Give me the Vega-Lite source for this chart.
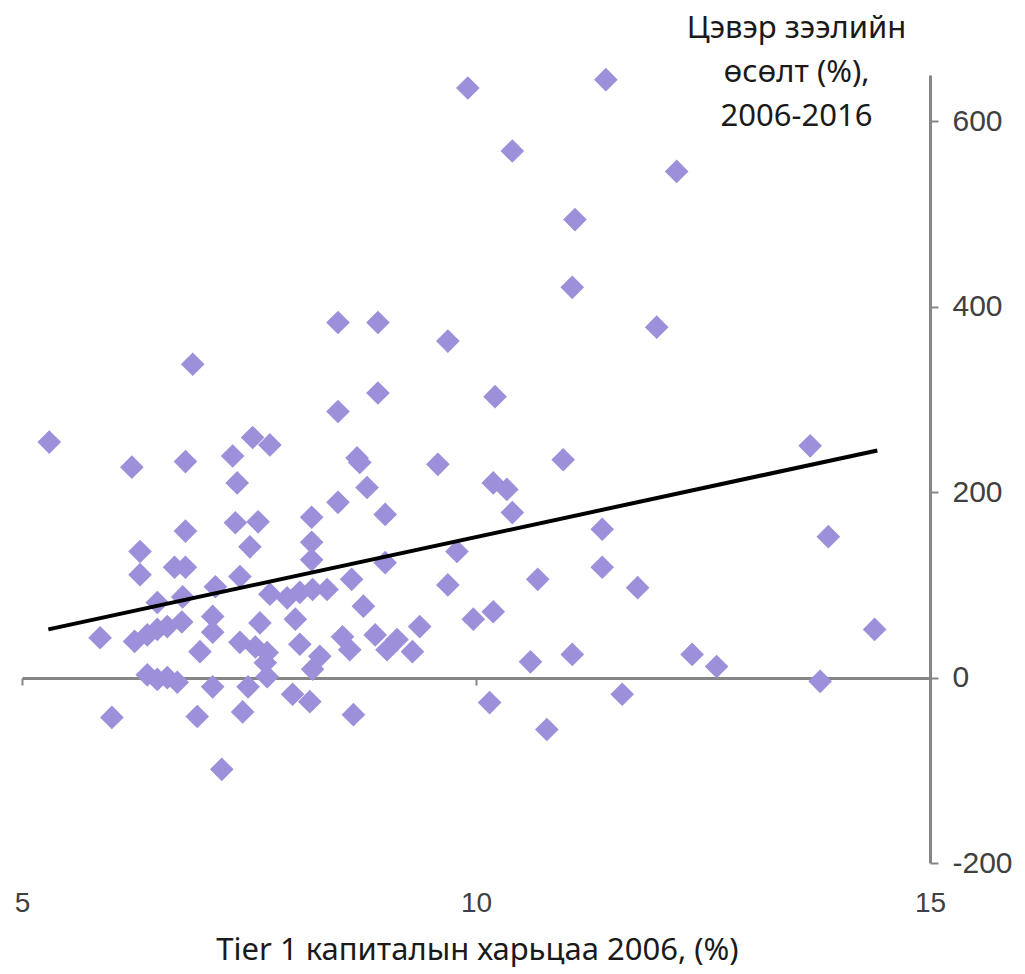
{
  "$schema": "https://vega.github.io/schema/vega-lite/v6.json",
  "autosize": "none",
  "width": 908,
  "height": 788,
  "padding": {"left": 22, "top": 75, "right": 95, "bottom": 111},
  "background": "white",
  "config": {"view": {"stroke": null}},
  "datasets": {
    "pts": [
      {"t1": 5.30, "g": 254}, {"t1": 5.86, "g": 43}, {"t1": 5.99, "g": -43}, {"t1": 6.21, "g": 227},
      {"t1": 6.30, "g": 136}, {"t1": 6.30, "g": 111}, {"t1": 6.24, "g": 39}, {"t1": 6.38, "g": 46},
      {"t1": 6.49, "g": 81}, {"t1": 6.49, "g": 52}, {"t1": 6.60, "g": 55}, {"t1": 6.76, "g": 60},
      {"t1": 6.77, "g": 87}, {"t1": 6.38, "g": 3}, {"t1": 6.49, "g": -2}, {"t1": 6.60, "g": 0},
      {"t1": 6.71, "g": -5}, {"t1": 6.80, "g": 233}, {"t1": 6.80, "g": 158}, {"t1": 6.68, "g": 119},
      {"t1": 6.80, "g": 119}, {"t1": 6.88, "g": 338}, {"t1": 6.93, "g": -42}, {"t1": 6.96, "g": 28},
      {"t1": 7.13, "g": 98}, {"t1": 7.10, "g": 66}, {"t1": 7.10, "g": 49}, {"t1": 7.10, "g": -10},
      {"t1": 7.20, "g": -99}, {"t1": 7.32, "g": 239}, {"t1": 7.37, "g": 210}, {"t1": 7.35, "g": 167},
      {"t1": 7.40, "g": 109}, {"t1": 7.40, "g": 38}, {"t1": 7.43, "g": -37}, {"t1": 7.54, "g": 259},
      {"t1": 7.73, "g": 251}, {"t1": 7.51, "g": 141}, {"t1": 7.60, "g": 168}, {"t1": 7.62, "g": 59},
      {"t1": 7.57, "g": 33}, {"t1": 7.70, "g": 27}, {"t1": 7.68, "g": 16}, {"t1": 7.49, "g": -10},
      {"t1": 7.70, "g": 1}, {"t1": 7.73, "g": 90}, {"t1": 7.92, "g": 86}, {"t1": 8.06, "g": 92},
      {"t1": 8.20, "g": 95}, {"t1": 8.36, "g": 95}, {"t1": 8.01, "g": 63}, {"t1": 8.06, "g": 36},
      {"t1": 7.98, "g": -18}, {"t1": 8.17, "g": -26}, {"t1": 8.19, "g": 173}, {"t1": 8.19, "g": 146},
      {"t1": 8.19, "g": 127}, {"t1": 8.28, "g": 23}, {"t1": 8.20, "g": 9}, {"t1": 8.48, "g": 383},
      {"t1": 8.48, "g": 287}, {"t1": 8.48, "g": 189}, {"t1": 8.53, "g": 44}, {"t1": 8.61, "g": 30},
      {"t1": 8.63, "g": 106}, {"t1": 8.76, "g": 77}, {"t1": 8.65, "g": -40}, {"t1": 8.69, "g": 237},
      {"t1": 8.72, "g": 232}, {"t1": 8.80, "g": 205}, {"t1": 8.89, "g": 46}, {"t1": 8.92, "g": 383},
      {"t1": 8.92, "g": 307}, {"t1": 9.00, "g": 176}, {"t1": 9.00, "g": 124}, {"t1": 9.02, "g": 30},
      {"t1": 9.13, "g": 41}, {"t1": 9.30, "g": 28}, {"t1": 9.38, "g": 55}, {"t1": 9.58, "g": 230},
      {"t1": 9.69, "g": 363}, {"t1": 9.69, "g": 100}, {"t1": 9.79, "g": 136}, {"t1": 9.91, "g": 636},
      {"t1": 9.97, "g": 63}, {"t1": 10.19, "g": 71}, {"t1": 10.15, "g": -27}, {"t1": 10.21, "g": 303},
      {"t1": 10.19, "g": 210}, {"t1": 10.34, "g": 203}, {"t1": 10.40, "g": 178}, {"t1": 10.40, "g": 568},
      {"t1": 10.60, "g": 17}, {"t1": 10.68, "g": 106}, {"t1": 10.78, "g": -56}, {"t1": 10.96, "g": 235},
      {"t1": 11.06, "g": 421}, {"t1": 11.09, "g": 494}, {"t1": 11.06, "g": 25}, {"t1": 11.39, "g": 160},
      {"t1": 11.39, "g": 119}, {"t1": 11.43, "g": 645}, {"t1": 11.61, "g": -18}, {"t1": 11.78, "g": 97},
      {"t1": 11.99, "g": 378}, {"t1": 12.21, "g": 546}, {"t1": 12.38, "g": 25}, {"t1": 12.65, "g": 12},
      {"t1": 13.68, "g": 250}, {"t1": 13.88, "g": 152}, {"t1": 13.79, "g": -4}, {"t1": 14.39, "g": 52}
    ],
    "trend": [
      {"t1": 5.29, "g": 52},
      {"t1": 14.42, "g": 245}
    ]
  },
  "layer": [
    {
      "data": {"name": "pts"},
      "mark": {"type": "point", "shape": "diamond", "filled": true, "size": 560, "color": "#9e8fda", "opacity": 1},
      "encoding": {
        "x": {
          "field": "t1", "type": "quantitative",
          "scale": {"domain": [5, 15], "nice": false, "zero": false},
          "axis": {
            "orient": "bottom", "offset": -185, "values": [5, 10, 15],
            "labelExpr": "'' + datum.value",
            "grid": false, "domainColor": "#868686", "domainWidth": 3,
            "tickColor": "#868686", "tickWidth": 2, "tickSize": 7,
            "labelPadding": 218, "labelBaseline": "middle",
            "labelFont": "Liberation Sans", "labelFontSize": 28,
            "labelColor": "#404040", "labelFlush": false, "labelOverlap": false,
            "title": "Tier 1 капиталын харьцаа 2006, (%)",
            "titleFont": "Noto Sans", "titleFontSize": 31, "titleFontWeight": "normal",
            "titleColor": "#1a1a1a", "titleBaseline": "middle", "titleY": 272, "titleX": 455
          }
        },
        "y": {
          "field": "g", "type": "quantitative",
          "scale": {"domain": [-200, 650], "nice": false, "zero": false},
          "axis": {
            "orient": "right", "values": [-200, 0, 200, 400, 600],
            "labelExpr": "'' + datum.value",
            "grid": false, "domainColor": "#868686", "domainWidth": 3,
            "tickColor": "#868686", "tickWidth": 2, "tickSize": 8,
            "labelPadding": 14, "labelFont": "Liberation Sans", "labelFontSize": 30,
            "labelColor": "#404040", "labelFlush": false, "labelOverlap": false,
            "title": ["Цэвэр зээлийн", "өсөлт (%),", "2006-2016"],
            "titleAngle": 0, "titleAlign": "center", "titleBaseline": "top",
            "titleX": -134, "titleY": -62, "titleLineHeight": 44,
            "titleFont": "Noto Sans", "titleFontSize": 31, "titleFontWeight": "normal",
            "titleColor": "#1a1a1a"
          }
        }
      }
    },
    {
      "data": {"name": "trend"},
      "mark": {"type": "line", "color": "#000000", "strokeWidth": 4},
      "encoding": {
        "x": {"field": "t1", "type": "quantitative"},
        "y": {"field": "g", "type": "quantitative"}
      }
    }
  ]
}
